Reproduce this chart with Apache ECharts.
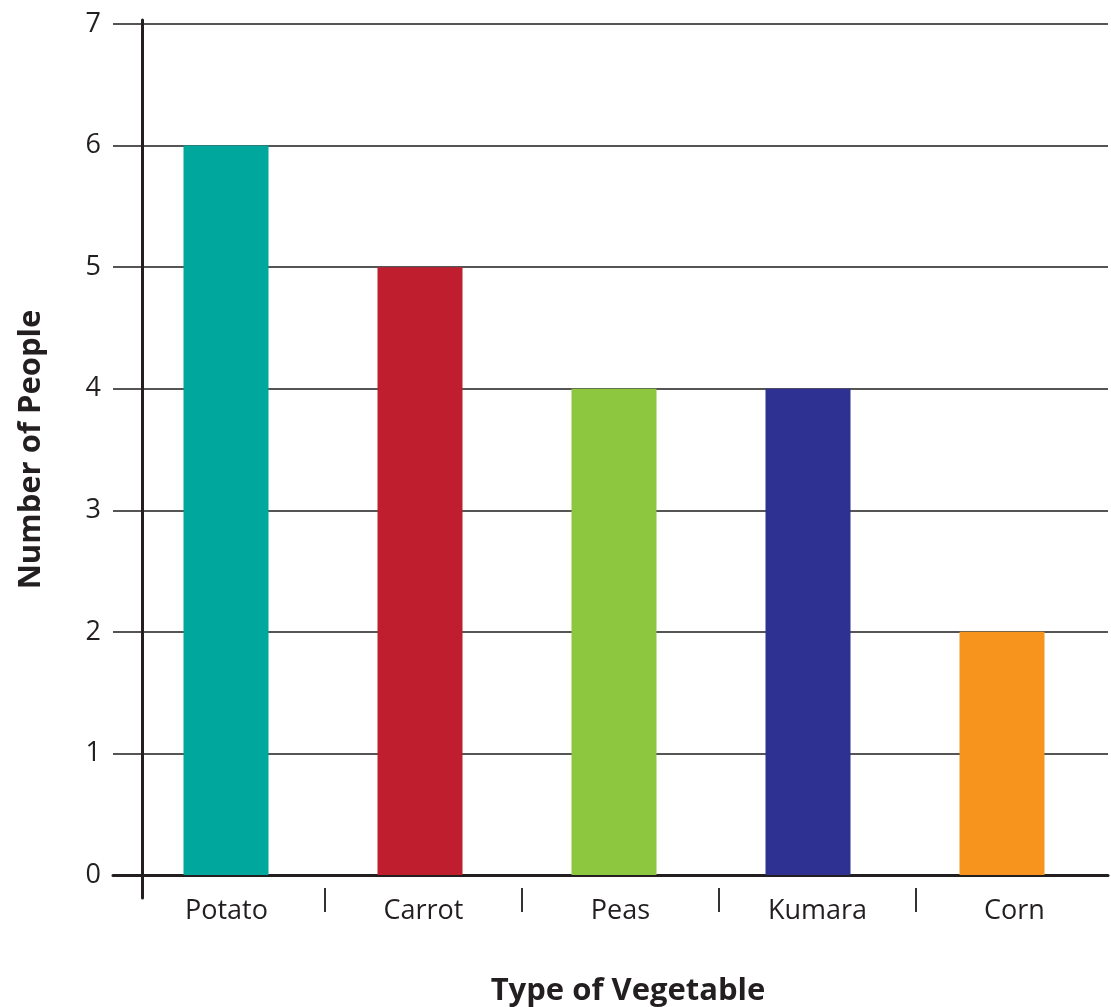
<!DOCTYPE html>
<html>
<head>
<meta charset="utf-8">
<script src="https://cdn.jsdelivr.net/npm/echarts@6/dist/echarts.min.js"></script>
<style>
  html, body { margin: 0; padding: 0; background: #fff; }
  #chart { width: 1111px; height: 1007px; }
</style>
</head>
<body>
<div id="chart"></div>
<script>
// data
var vegetables = ['Potato', 'Carrot', 'Peas', 'Kumara', 'Corn'];
var people = [6, 5, 4, 4, 2];
var yTicks = [0, 1, 2, 3, 4, 5, 6, 7];
// separator ticks sit between the categories
var separators = [1, 2, 3, 4];

// one colour per bar
var barColors = ['#00A79D', '#BE1E2D', '#8DC63F', '#2E3192', '#F7941D'];

var chart = echarts.init(document.getElementById('chart'));
var font = '"Open Sans", "Noto Sans", sans-serif';
var ink = '#231f20';

var option = {
    animation: false,
    textStyle: { fontFamily: font },
    grid: [
        // gridlines + y labels + baseline
        { left: 113, right: 3, top: 24, bottom: 132, outerBoundsMode: 'none' },
        // bars
        { left: 129, width: 970, top: 24, bottom: 132, outerBoundsMode: 'none' },
        // the vertical axis line, a bit longer than the plot
        { left: 142, width: 10, top: 20, bottom: 109, outerBoundsMode: 'none' },
        // category labels and separators
        { left: 128, width: 985, top: 24, bottom: 132, outerBoundsMode: 'none' }
    ],
    xAxis: [
        {
            gridIndex: 0, type: 'value', min: 0, max: 1,
            axisLine: { show: true, onZero: false, lineStyle: { color: ink, width: 3 } },
            axisTick: { show: false }, axisLabel: { show: false }, splitLine: { show: false }
        },
        {
            gridIndex: 1, type: 'category', data: vegetables, show: false
        },
        { gridIndex: 2, type: 'value', show: false },
        {
            gridIndex: 3, type: 'category', data: vegetables,
            offset: 13,
            axisLine: { show: false },
            axisTick: { show: false },
            axisLabel: { fontSize: 27, color: ink, margin: 10, fontFamily: font },
            name: 'Type of Vegetable',
            nameLocation: 'middle',
            nameGap: 88,
            nameTextStyle: { fontSize: 31, fontWeight: 'bold', color: ink, fontFamily: font, padding: [0, 0, 0, 15] }
        },
        {
            // short separators between the category labels
            gridIndex: 3, type: 'value', min: 0, max: vegetables.length, interval: 1,
            position: 'bottom', offset: 13,
            axisLine: { show: false },
            axisTick: { show: true, length: 24, customValues: separators, lineStyle: { color: '#333', width: 2 } },
            axisLabel: { show: false }, splitLine: { show: false }
        }
    ],
    yAxis: [
        {
            gridIndex: 0, type: 'value', min: yTicks[0], max: yTicks[yTicks.length - 1], interval: 1,
            axisLine: { show: false }, axisTick: { show: false },
            axisLabel: { fontSize: 27, color: ink, margin: 12, fontFamily: font },
            splitLine: { show: true, lineStyle: { color: '#555', width: 2 } },
            name: 'Number of People',
            nameLocation: 'middle',
            nameRotate: 90,
            nameGap: 66,
            nameTextStyle: { fontSize: 31, fontWeight: 'bold', color: ink, fontFamily: font }
        },
        {
            gridIndex: 1, type: 'value', min: yTicks[0], max: yTicks[yTicks.length - 1], interval: 1, show: false
        },
        {
            gridIndex: 2, type: 'value', min: 0, max: 1,
            axisLine: { show: true, lineStyle: { color: ink, width: 3 } },
            axisTick: { show: false }, axisLabel: { show: false }, splitLine: { show: false }
        },
        {
            gridIndex: 3, type: 'value', show: false
        }
    ],
    series: [{
        type: 'bar',
        xAxisIndex: 1,
        yAxisIndex: 1,
        barWidth: 85,
        data: people.map(function (v, i) {
            return { value: v, itemStyle: { color: barColors[i] } };
        })
    }]
};

chart.setOption(option);
</script>
</body>
</html>
